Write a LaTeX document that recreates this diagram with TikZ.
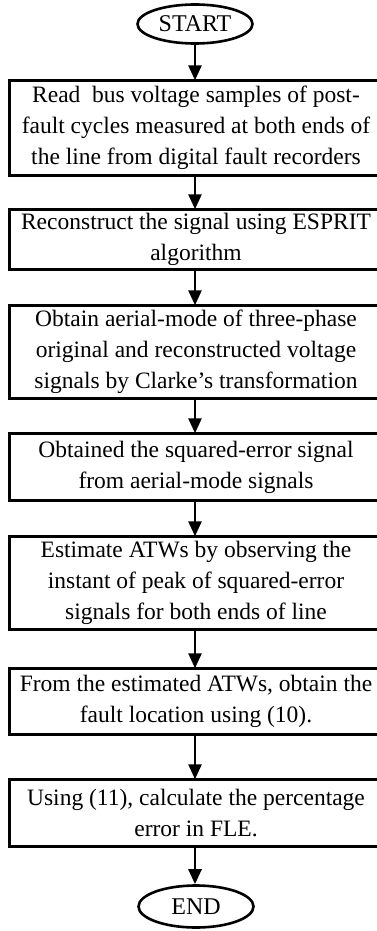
\documentclass[tikz,border=0pt]{standalone}
\usepackage{fontspec}
\setmainfont{Liberation Serif}
\usetikzlibrary{shapes.geometric,arrows.meta}
\begin{document}
\begin{tikzpicture}[x=1pt,y=1pt,
  every node/.style={font=\fontsize{23.5}{31}\selectfont, align=center, inner sep=0pt},
  procbox/.style={rectangle, minimum width=373pt},
  frame/.style={draw, line width=2.6pt},
  term/.style={draw, line width=2.6pt, ellipse, minimum width=115pt, minimum height=39pt, font=\fontsize{24}{28}\selectfont},
  flow/.style={line width=2.6pt, -{Triangle[length=15pt,width=13pt]}}]
\useasboundingbox (0,0) rectangle (377,-931);
\clip (0,0) rectangle (377,-931);
\node[term] (start) at (195,-24) {START};
\node[procbox, minimum height=95pt] (b1) at (196,-128) {Read\ \ bus voltage samples of post-\\fault cycles measured at both ends of\\the line from digital fault recorders};
\node[procbox, minimum height=60pt] (b2) at (196,-239.5) {Reconstruct the signal using ESPRIT\\algorithm};
\node[procbox, minimum height=93pt] (b3) at (196,-352) {Obtain aerial-mode of three-phase\\original and reconstructed voltage\\signals by Clarke’s transformation};
\node[procbox, minimum height=67pt] (b4) at (196,-467) {Obtained the squared-error signal\\from aerial-mode signals};
\node[procbox, minimum height=93pt] (b5) at (196,-583) {Estimate ATWs by observing the\\instant of peak of squared-error\\signals for both ends of line};
\node[procbox, minimum height=66pt] (b6) at (196,-701.5) {From the estimated ATWs, obtain the\\fault location using (10).};
\node[procbox, minimum height=67pt] (b7) at (196,-813) {Using (11), calculate the percentage\\error in FLE.};
\node[term, minimum height=42pt] (end) at (196,-906.5) {END};
\foreach \b in {b1,b2,b3,b4,b5,b6,b7}
  \draw[frame] (\b.south west) rectangle ([xshift=30pt]\b.north east);
\draw[flow] (start.south) -- (start.south |- b1.north);
\draw[flow] (b1.south -| start.south) -- (start.south |- b2.north);
\draw[flow] (b2.south -| start.south) -- (start.south |- b3.north);
\draw[flow] (b3.south -| start.south) -- (start.south |- b4.north);
\draw[flow] (b4.south -| start.south) -- (start.south |- b5.north);
\draw[flow] (b5.south -| start.south) -- (start.south |- b6.north);
\draw[flow] (b6.south -| start.south) -- (start.south |- b7.north);
\draw[flow] (b7.south -| start.south) -- (start.south |- end.north);
\end{tikzpicture}
\end{document}
